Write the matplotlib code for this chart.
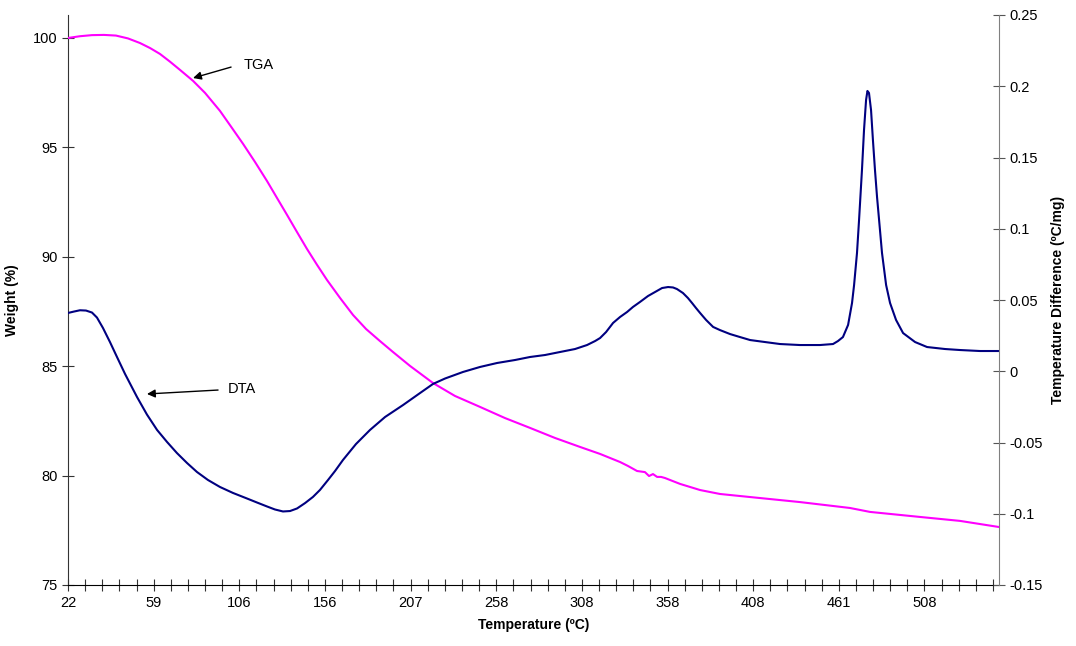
import matplotlib
matplotlib.use('Agg')
import matplotlib.pyplot as plt
from matplotlib.ticker import FixedLocator, MultipleLocator

plt.rcParams['font.family'] = ['Liberation Sans', 'DejaVu Sans']

# x axis is an Excel category axis: sample number, labelled with temperature
tick_pos = [0, 50, 100, 150, 200, 250, 300, 350, 400, 450, 500]
tick_labels = ['22', '59', '106', '156', '207', '258', '308', '358', '408', '461', '508']
n_samples = 543.5

# TGA weight (%)
tga_idx = [0, 7.0, 14.0, 21.0, 28.0, 35.0, 42.0, 47.9, 53.7, 59.5, 65.4, 73.0, 80.0,
           88.7, 95.7, 102.2, 109.2, 116.2, 122.0, 127.9, 133.7, 139.5, 145.4, 151.2,
           158.8, 166.4, 174.0, 182.1, 189.7, 199.7, 213.1, 225.9, 240.5, 255.1,
           269.7, 284.3, 298.9, 310.6, 322.3, 326.9, 332.2, 336.8, 339.2, 341.5,
           343.9, 346.2, 348.5, 357.3, 369.0, 380.6, 398.2, 427.3, 456.5, 468.2,
           497.4, 520.7, 543.5]
tga_wt = [100.00, 100.08, 100.13, 100.14, 100.11, 99.98, 99.77, 99.54, 99.27, 98.92,
          98.54, 98.04, 97.49, 96.67, 95.89, 95.16, 94.33, 93.46, 92.69, 91.91, 91.13,
          90.36, 89.63, 88.94, 88.12, 87.34, 86.70, 86.15, 85.65, 85.01, 84.23, 83.64,
          83.14, 82.63, 82.18, 81.72, 81.31, 80.99, 80.62, 80.44, 80.21, 80.16, 79.98,
          80.07, 79.94, 79.94, 79.89, 79.62, 79.34, 79.16, 79.02, 78.79, 78.52, 78.34,
          78.11, 77.93, 77.65]

# DTA temperature difference (ºC/mg)
dta_idx = [0, 3.5, 7.0, 10.5, 14.0, 16.9, 20.4, 24.5, 28.6, 33.3, 40.3, 46.1, 52.0,
           57.8, 63.6, 69.5, 75.3, 81.7, 88.7, 96.3, 104.5, 110.3, 116.2, 120.8,
           125.5, 129.6, 133.7, 138.4, 143.0, 147.1, 151.8, 155.9, 160.5, 168.1,
           176.3, 185.1, 195.6, 205.5, 213.1, 220.1, 230.6, 240.5, 250.5, 261.0,
           269.7, 278.5, 287.2, 296.0, 303.0, 307.7, 310.6, 314.1, 318.2, 322.3,
           326.4, 329.8, 333.9, 338.6, 342.7, 346.8, 350.3, 353.2, 355.5, 359.0,
           361.9, 364.3, 366.6, 369.0, 372.5, 376.6, 380.6, 386.5, 392.3, 398.2,
           406.9, 415.7, 427.3, 439.0, 446.6, 449.5, 452.4, 455.4, 457.7, 458.9,
           460.6, 461.8, 463.5, 464.7, 465.9, 466.7, 467.6, 468.8, 469.9, 471.1,
           472.3, 473.5, 475.2, 477.6, 479.9, 483.4, 487.5, 494.5, 501.5, 512.0,
           520.7, 532.4, 543.5]
dta_val = [0.0409, 0.0419, 0.0428, 0.0426, 0.0412, 0.0377, 0.0304, 0.0205, 0.0100,
           -0.0019, -0.0181, -0.0304, -0.0412, -0.0496, -0.0574, -0.0644, -0.0707,
           -0.0763, -0.0812, -0.0854, -0.0893, -0.0921, -0.0949, -0.0970, -0.0984,
           -0.0981, -0.0963, -0.0925, -0.0882, -0.0833, -0.0763, -0.0700, -0.0623,
           -0.0511, -0.0412, -0.0321, -0.0237, -0.0153, -0.0089, -0.0051, -0.0005,
           0.0030, 0.0058, 0.0079, 0.0100, 0.0114, 0.0135, 0.0156, 0.0184, 0.0212,
           0.0233, 0.0275, 0.0339, 0.0381, 0.0416, 0.0451, 0.0486, 0.0528, 0.0556,
           0.0584, 0.0591, 0.0588, 0.0577, 0.0549, 0.0514, 0.0479, 0.0444, 0.0409,
           0.0360, 0.0311, 0.0289, 0.0261, 0.0240, 0.0219, 0.0205, 0.0191, 0.0184,
           0.0184, 0.0191, 0.0212, 0.0240, 0.0325, 0.0479, 0.0605, 0.0830, 0.1061,
           0.1412, 0.1693, 0.1904, 0.1967, 0.1953, 0.1833, 0.1623, 0.1412, 0.1223,
           0.1061, 0.0830, 0.0605, 0.0479, 0.0360, 0.0268, 0.0205, 0.0170, 0.0156,
           0.0149, 0.0142, 0.0142]

fig = plt.figure(figsize=(10.76, 6.46), dpi=100)
ax = fig.add_axes([68/1076, 1 - 585/646, 931/1076, 570/646])
ax2 = ax.twinx()

ax.plot(tga_idx, tga_wt, color='#FF00FF', lw=1.5, zorder=3, solid_joinstyle='round')
ax2.plot(dta_idx, dta_val, color='#000080', lw=1.5, solid_joinstyle='round')

ax.set_xlim(0, n_samples)
ax.set_ylim(75, 101.05)
ax2.set_ylim(-0.15, 0.25)

ax.xaxis.set_major_locator(FixedLocator(tick_pos))
ax.set_xticklabels(tick_labels)
ax.xaxis.set_minor_locator(MultipleLocator(10))
ax.set_yticks([75, 80, 85, 90, 95, 100])
ax2.set_yticks([-0.15, -0.1, -0.05, 0, 0.05, 0.1, 0.15, 0.2, 0.25])
ax2.set_yticklabels(['-0.15', '-0.1', '-0.05', '0', '0.05', '0.1', '0.15', '0.2', '0.25'])

for a in (ax, ax2):
    a.spines['top'].set_visible(False)
ax.spines['right'].set_visible(False)
ax.spines['left'].set_color('#333333')
ax.spines['bottom'].set_color('black')
ax2.spines['left'].set_visible(False)
ax2.spines['bottom'].set_visible(False)
ax2.spines['right'].set_color('#808080')

ax.tick_params(axis='x', which='both', direction='inout', length=8, width=0.8,
               labelsize=10.5, pad=4, color='#333333')
ax.tick_params(axis='y', direction='inout', length=9, width=0.8, labelsize=10.5,
               color='#333333', pad=3)
ax2.tick_params(axis='y', direction='inout', length=9, width=0.8, labelsize=10.5,
                color='#555555', pad=3)

ax.set_xlabel('Temperature (ºC)', fontsize=10, fontweight='bold', labelpad=6)
ax.set_ylabel('Weight (%)', fontsize=10, fontweight='bold', labelpad=10)
ax2.set_ylabel('Temperature Difference (ºC/mg)', fontsize=10, fontweight='bold',
               labelpad=6)

arrow = dict(arrowstyle='-|>', color='black', lw=1, mutation_scale=12, shrinkA=0, shrinkB=0)
ax.annotate('', xy=(73, 98.17), xytext=(95.2, 98.67), arrowprops=arrow)
ax.text(102.8, 98.77, 'TGA', fontsize=10.5, va='center', ha='left')
ax.annotate('', xy=(46.1, 83.73), xytext=(87.6, 83.91), arrowprops=arrow)
ax.text(93.4, 83.96, 'DTA', fontsize=10.5, va='center', ha='left')

fig.savefig('out.png', dpi=100)
